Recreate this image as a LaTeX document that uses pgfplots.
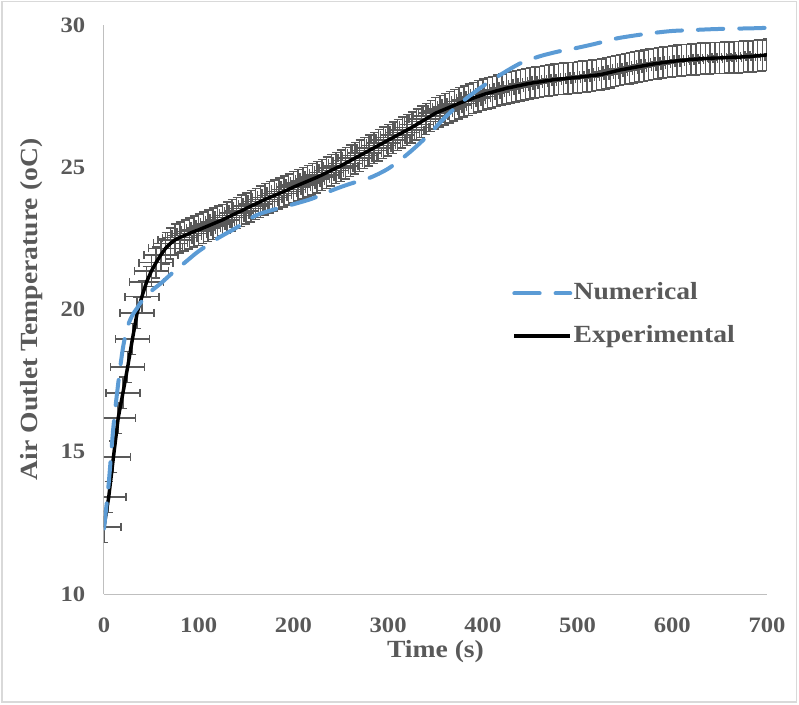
\documentclass[border=0pt]{standalone}
\usepackage{pgfplots}
\pgfplotsset{compat=1.18}
\usepackage{pgfplotstable}
\usepackage{fontspec}
\setmainfont[FakeStretch=1.12]{Liberation Serif}
\definecolor{txtgray}{HTML}{595959}
\definecolor{numblue}{HTML}{5B9BD5}
\definecolor{axgray}{HTML}{BFBFBF}
\definecolor{framegray}{HTML}{D9D9D9}

\pgfplotstableread{
t y
0 12.36
5 13.41
10 14.82
15 16.19
20 17.07
25 17.98
30 18.96
35 19.88
40 20.45
45 20.97
50 21.35
55 21.65
60 21.92
65 22.15
70 22.32
75 22.45
80 22.53
85 22.60
90 22.67
95 22.74
100 22.80
105 22.87
110 22.94
115 23.01
120 23.08
125 23.15
130 23.23
135 23.31
140 23.39
145 23.47
150 23.55
155 23.63
160 23.71
165 23.79
170 23.87
175 23.94
180 24.01
185 24.08
190 24.15
195 24.22
200 24.30
205 24.37
210 24.44
215 24.51
220 24.58
225 24.65
230 24.73
235 24.81
240 24.89
245 24.97
250 25.05
255 25.14
260 25.23
265 25.32
270 25.41
275 25.50
280 25.59
285 25.68
290 25.77
295 25.86
300 25.95
305 26.04
310 26.13
315 26.22
320 26.31
325 26.40
330 26.50
335 26.60
340 26.70
345 26.80
350 26.90
355 26.97
360 27.04
365 27.11
370 27.18
375 27.25
380 27.31
385 27.37
390 27.43
395 27.49
400 27.55
405 27.60
410 27.64
415 27.69
420 27.73
425 27.78
430 27.81
435 27.85
440 27.88
445 27.92
450 27.95
455 27.98
460 28.00
465 28.03
470 28.05
475 28.08
480 28.10
485 28.11
490 28.13
495 28.14
500 28.16
505 28.18
510 28.20
515 28.22
520 28.24
525 28.26
530 28.30
535 28.34
540 28.38
545 28.42
550 28.45
555 28.48
560 28.51
565 28.54
570 28.57
575 28.60
580 28.63
585 28.65
590 28.68
595 28.70
600 28.72
605 28.74
610 28.76
615 28.77
620 28.79
625 28.80
630 28.81
635 28.82
640 28.83
645 28.84
650 28.84
655 28.85
660 28.86
665 28.87
670 28.87
675 28.88
680 28.89
685 28.90
690 28.92
695 28.93
700 28.95
}\exptable

\pgfplotstableread{
t y
0 12.30
5 13.90
10 15.90
15 17.40
20 18.65
25 19.40
30 19.80
35 20.05
40 20.30
50 20.65
60 20.92
70 21.22
80 21.50
90 21.78
100 22.05
120 22.50
140 22.88
160 23.30
180 23.52
200 23.70
220 23.90
240 24.18
260 24.42
280 24.62
300 24.95
320 25.45
340 26.05
360 26.75
380 27.35
400 27.85
420 28.28
440 28.66
460 28.90
480 29.07
500 29.20
520 29.35
540 29.52
560 29.63
580 29.72
600 29.79
620 29.82
640 29.85
660 29.87
680 29.88
700 29.90
}\numtable

\begin{document}
\begin{tikzpicture}
\begin{axis}[
  at={(0,0)}, anchor=south west,
  scale only axis, width=497.25pt, height=426.75pt,
  xmin=0, xmax=700, ymin=10, ymax=30,
  axis x line=bottom, axis y line=left,
  axis line style={-, draw=axgray, line width=0.75pt},
  xtick={0,100,...,700}, ytick={10,15,...,30},
  major tick length=0pt,
  tick label style={font=\fontsize{16.5}{18}\selectfont\bfseries, text=txtgray},
  /pgf/number format/assume math mode=true,
  xticklabel style={anchor=base, yshift=-28.5pt},
  yticklabel style={anchor=east, xshift=-10.5pt},
  label style={font=\fontsize{18.5}{20}\selectfont\bfseries, text=txtgray},
  xlabel={Time (s)},
  ylabel={Air Outlet Temperature (oC)},
  xlabel style={at={([yshift=-47.25pt]rel axis cs:0.5,0)}, anchor=base},
  ylabel style={at={([xshift=-50pt]rel axis cs:0,0.5)}, anchor=base},
  legend image code/.code={\draw[#1] (0pt,0pt) -- (42pt,0pt);},
  legend cell align=left,
  legend style={at={(axis cs:430.8,19.82)}, anchor=west, draw=none, fill=none,
    inner sep=0pt, row sep=15.25pt, column sep=1pt,
    nodes={inner sep=0pt, text height=13pt, text depth=3.5pt,
      font=\fontsize{18.5}{20}\selectfont\bfseries, text=txtgray}},
]
% horizontal (x) error bars
\addplot[draw=none, mark=none, forget plot,
  error bars/.cd, x dir=both, x fixed=18,
  error mark=|,
  error bar style={draw=txtgray, line width=1.1pt},
  error mark options={draw=txtgray, mark size=3pt, line width=1.1pt}]
  table[x=t, y=y] {\exptable};
% vertical (y) error bars
\addplot[draw=none, mark=none, forget plot,
  error bars/.cd, y dir=both, y fixed=0.55,
  error mark=|,
  error bar style={draw=txtgray, line width=1.1pt},
  error mark options={draw=txtgray, mark size=3pt, line width=1.1pt}]
  table[x=t, y=y] {\exptable};
\addplot[black, line width=2.6pt, mark=none, line join=round, forget plot]
  table[x=t, y=y] {\exptable};
\addplot[numblue, line width=3pt, mark=none, smooth, line cap=round,
  dash pattern=on 19pt off 12pt, forget plot]
  table[x=t, y=y] {\numtable};
\addlegendimage{numblue, line width=3pt, line cap=round, dash pattern=on 19pt off 12pt}
\addlegendentry{Numerical}
\addlegendimage{black, line width=2.6pt}
\addlegendentry{Experimental}
\end{axis}
\useasboundingbox (-78pt,-82.5pt) rectangle (521.25pt,445.5pt);
\draw[framegray, line width=0.9pt] (-76.5pt,-81pt) rectangle (519.5pt,444.5pt);
\end{tikzpicture}
\end{document}
